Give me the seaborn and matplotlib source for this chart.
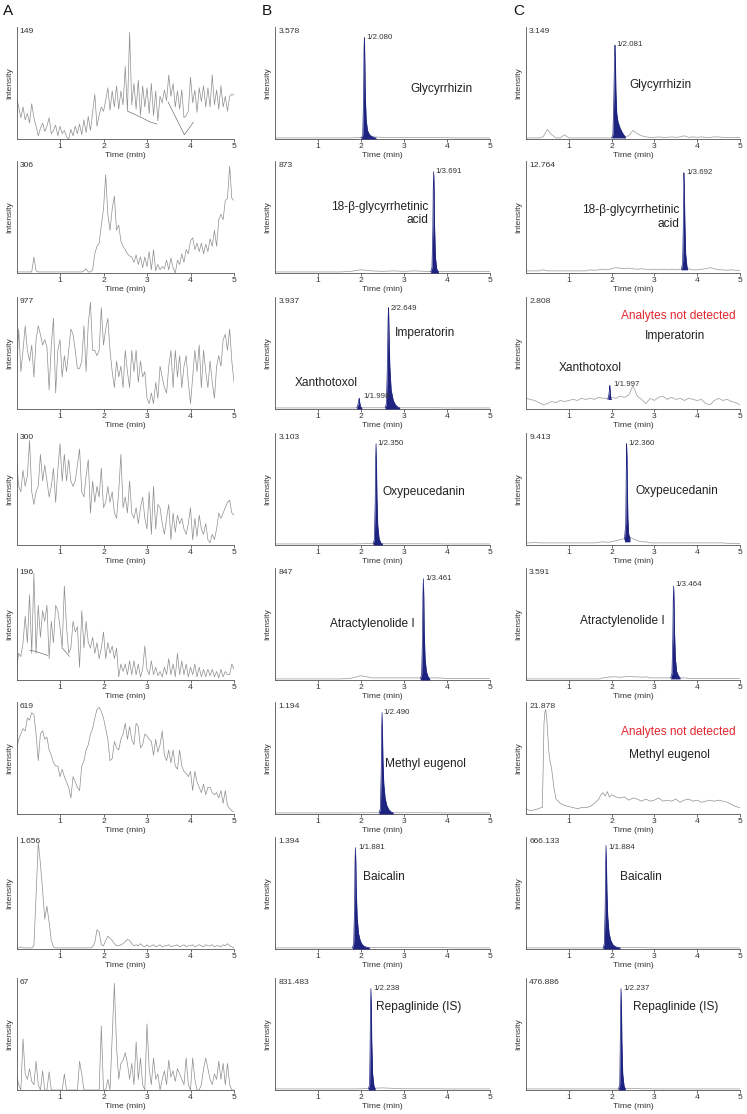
import numpy as np
import matplotlib
matplotlib.use("Agg")
import matplotlib.pyplot as plt
import seaborn as sns

# ---------------- DATA (relative intensity, % of panel maximum) ----------------
XTICKS = [1, 2, 3, 4, 5]

# Column A: blank chromatograms (0.05 min sampling)
a1 = [40,30,20,30,18,24,15,33,20,12, 3,10,15,7,12,20,5,8,13,3,
      12,5,8,2,0,9,3,12,5,14, 4,18,6,21,8,25,42,12,22,30,
      26,36,48,27,45,30,50,28,45,32, 68,26,100,32,52,28,55,22,50,30,
      48,24,52,22,45,17,40,34,46,36, 60,40,52,30,45,28,46,20,22,26,
      58,34,46,25,48,35,50,30,48,30, 60,32,46,28,50,30,40,26,40,42, 41]
a2 = [1,1,1,1,1,1,1,1,15,2, 1,1,1,1,1,1,1,1,1,1,
      1,1,1,1,1,1,1,1,1,1, 1,2,4,1,1,3,18,25,28,45,
      60,92,55,40,60,72,40,45,30,25, 22,18,16,15,10,17,8,15,5,15,
      6,20,3,22,2,8,3,6,4,12, 3,14,5,0,12,8,18,10,22,18,
      30,33,22,28,20,28,18,27,20,32, 25,40,25,50,55,50,68,70,100,70, 68]
a3 = [30,75,35,55,78,55,45,60,30,65, 78,70,60,65,58,18,60,85,15,55,
      65,30,50,35,55,75,70,55,38,38, 45,78,35,80,100,55,55,50,55,95,
      60,75,85,55,35,20,45,30,40,20, 55,35,20,55,35,55,25,45,30,35,
      10,5,15,5,25,10,40,30,20,15, 40,55,20,55,30,50,20,40,50,25,
      5,30,55,35,60,20,55,35,20,45, 25,10,40,50,40,65,70,55,75,45, 25]
a4 = [80,55,50,70,55,65,98,50,38,50, 55,85,60,75,60,45,55,72,40,70,
      95,60,85,60,80,60,55,60,75,90, 50,45,65,80,30,60,40,55,45,72,
      35,40,55,40,50,30,25,50,85,35, 45,30,60,30,25,35,20,35,45,25,
      15,50,10,55,15,38,35,20,10,25, 38,5,30,12,28,20,25,15,10,20,
      35,5,25,8,28,15,10,20,5,2, 10,5,15,30,25,30,35,40,42,30, 28]
a5 = [10,25,22,35,60,35,80,25,100,25, 70,40,65,55,70,20,55,35,70,65,
      50,30,88,50,25,30,55,45,50,12, 65,30,55,35,30,40,25,35,20,30,
      45,20,35,25,32,20,30,3,15,8, 15,5,18,5,18,5,15,3,10,32,
      10,5,18,5,12,4,8,3,12,5, 20,5,15,3,25,5,18,5,15,3,
      12,5,15,3,12,3,10,3,10,4, 10,3,8,2,10,3,8,5,5,15, 10]
a6 = [60,70,75,80,78,90,88,95,93,75, 50,75,78,70,72,60,55,48,45,45,
      35,42,35,30,25,15,35,30,25,22, 45,50,60,65,75,80,90,98,100,96,
      90,80,70,50,52,68,62,60,70,75, 85,70,82,70,65,85,82,62,65,75,
      73,70,68,55,70,58,65,78,55,50, 60,48,60,45,42,60,45,40,38,35,
      40,22,40,30,25,20,28,18,25,25, 20,18,20,15,22,10,22,8,5,3, 2]
a7 = [1,1,2,1,1,1,1,1,3,50, 100,80,55,28,40,25,8,2,1,1,
      1,1,1,1,1,1,1,1,1,1, 1,1,1,1,1,2,6,18,16,4,
      3,8,12,10,8,5,3,3,4,5, 7,9,8,5,3,4,3,5,3,2,
      4,2,3,4,2,3,4,2,3,3, 4,2,3,3,4,2,3,4,2,3,
      3,4,2,3,4,3,2,4,3,3, 4,2,3,3,2,4,3,5,3,2, 1]
a8 = [15,5,0,48,15,10,20,8,5,27, 5,0,18,0,0,17,0,0,0,0,
      0,0,15,0,0,0,0,0,0,27, 15,0,0,0,0,0,0,0,0,60,
      0,0,10,0,50,100,40,10,25,28, 35,25,10,25,5,45,10,30,5,0,
      62,20,5,30,10,15,0,10,18,5, 28,12,18,8,20,15,10,5,30,5,
      0,30,10,0,0,5,20,30,20,10, 5,15,10,27,10,25,5,25,5,0, 0]
a_max = ["149", "306", "977", "300", "196", "619", "1.656", "67"]

# integration baselines drawn over the A traces
a1_bl1_t, a1_bl1_y = [2.56, 2.88, 3.07, 3.23], [26, 20, 16, 14]
a1_bl2_t, a1_bl2_y = [3.48, 3.86, 4.07], [35, 4, 16]
a5_bl1_t, a5_bl1_y = [0.30, 0.42, 0.72], [28, 27, 23]
a5_bl2_t, a5_bl2_y = [1.05, 1.22], [30, 22]

# Column B: standards (baseline sampled every 0.25 min, peaks sampled finely)
b1_base = [1,1,1,1,1,1,1,1,1.5,2,1.5,1.5,1.5,1.5,1.5,1.5,1.2,1,1,1,1]
b2_base = [1,1,1,1,1,1,1,1.5,3,2,1.5,2,1.5,2,1.5,1.5,1.5,1.5,1.5,1.5,1.5]
b3_base = [1,1,1,1,1,1,1,1,1.2,1.2,1.2,1.2,1.2,1.2,1.2,1.2,1,1,1,1,1]
b4_base = [1,1,1,1,1,1,1,1,1.2,1.5,1.2,1.2,1.2,1.2,1.2,1.2,1,1,1,1,1]
b5_base = [1,1,1,1,1,1,1,1.5,4,2,2,2,2,2,2,2,1.5,1.5,1.5,1.5,1.5]
b6_base = [1,1,1,1,1,1,1,1,1.2,1.2,1.2,1.2,1.2,1.2,1.2,1.2,1,1,1,1,1]
b7_base = [1,1,1,1,1,1,1,1,1.2,1.5,1.5,1.5,1.5,1.5,1.5,1.5,1.2,1,1,1,1]
b8_base = [1,1,1,1,1,1,1,1,1.2,1.5,2,1.5,1.2,1.2,1.2,1.2,1,1,1,1,1]
b_max = ["3.578", "873", "3.937", "3.103", "847", "1.194", "1.394", "831.483"]

b1_pt = [2.00,2.04,2.06,2.07,2.08,2.09,2.10,2.12,2.15,2.20,2.25,2.30,2.35]
b1_py = [1,3,40,85,95,70,40,18,8,4,2.5,1.5,1]
b2_pt = [3.62,3.65,3.67,3.68,3.69,3.70,3.71,3.73,3.76,3.80]
b2_py = [1,5,40,80,95,80,45,15,4,1]
b3x_pt = [1.90,1.93,1.95,1.96,1.97,1.99,2.02]
b3x_py = [1,4,9,10,6,2,1]
b3_pt = [2.56,2.59,2.61,2.63,2.64,2.65,2.67,2.70,2.75,2.80,2.85,2.90]
b3_py = [1,5,35,85,95,75,40,18,8,4,2,1]
b4_pt = [2.28,2.31,2.33,2.34,2.35,2.36,2.37,2.39,2.42,2.46,2.50]
b4_py = [1,5,40,80,95,75,45,18,6,2,1]
b5_pt = [3.38,3.41,3.43,3.44,3.45,3.46,3.47,3.49,3.52,3.56,3.60]
b5_py = [1,5,40,80,95,78,45,20,8,3,1]
b6_pt = [2.42,2.45,2.47,2.48,2.49,2.50,2.51,2.53,2.56,2.60,2.65,2.70,2.75]
b6_py = [1,5,40,80,95,75,50,28,15,8,4,2,1]
b7_pt = [1.80,1.83,1.85,1.86,1.87,1.88,1.89,1.91,1.94,1.98,2.03,2.10,2.20]
b7_py = [1,5,40,80,95,80,55,30,15,8,4,2,1]
b8_pt = [2.17,2.20,2.21,2.22,2.23,2.24,2.25,2.27,2.30,2.33]
b8_py = [1,5,35,75,95,80,45,15,4,1]

# Column C: samples (baseline sampled every 0.1 min)
c1_base = [1,1,1,1,2,9,4,1,1,4, 1,1,1,1,1,1,1,1,1,1,
           1,2,3,2,3,8,5,3,2,1.5, 1.5,2,1.5,1.5,2,1.5,2,3,1.5,2,
           1.5,2,1.5,1.5,2,2,1.5,1.5,1.5,1.5, 1.5]
c2_base = [2,2,2,2,3,2,2,2,2,2, 2,2,2,2,2,3,2.5,3,3.5,3,
           4,5,4.5,4,4.5,4,3.5,4,3.5,3, 3.5,3,3.5,3,3.5,3,3.5,3,4,3,
           3,3.5,4,5,4,3,3,2.5,3,2.5, 2.5]
c3_base = [10,9,8,6,4,5,7,6,8,7, 8,9,8,10,9,10,9,11,10,10,
           11,10,12,11,13,22,12,9,5,10, 8,11,12,9,11,9,10,8,10,9,
           8,9,5,4,8,10,8,9,7,6, 4]
c4_base = [2,2,2.5,2,2,2,2,2,2,2, 2,2,2,2,2,2,2,2.5,3,2.5,
           3,4,5,6,8,6,4,3,3,2, 2,2,2,2,2,2,2,2,2,2,
           2,2,2,2,2,2,2,1.5,1.5,1.5, 1.5]
c5_base = [1,1,1,1,1,1,1,1,1,1, 1,1,1,1,1,1,1,1,2,2.5,
           3,3,2.5,3,3.5,3,3,2.5,3,2, 2,2,2,2,2,2,2,2,1.5,1.5,
           1.5,1.5,1.5,1.5,1.5,1.5,1.5,1.5,1.5,1.5, 1.5]
c6_t = [0.0,0.1,0.2,0.3,0.35,0.38,0.40,0.42,0.44,0.46,0.48,0.50,0.53,0.56,0.60,0.65,0.70,
        0.80,0.90,1.00,1.10,1.20,1.30,1.40,1.50,1.60,1.70,1.75,1.80,1.85,1.90,1.95,2.00,
        2.10,2.20,2.30,2.40,2.50,2.60,2.70,2.80,2.90,3.00,3.10,3.20,3.30,3.40,3.50,3.60,
        3.70,3.80,3.90,4.00,4.10,4.20,4.30,4.40,4.50,4.60,4.70,4.80,4.90,5.00]
c6_y = [5,3,4,5,6,6,40,85,95,98,92,80,60,50,42,25,14,
        10,8,7,6,5,6,6,7,10,14,18,20,17,21,16,18,
        16,15,16,13,15,14,12,14,12,13,15,12,13,12,14,11,
        13,14,12,13,11,12,13,12,13,12,11,9,7,6]
c7_base = [1,1,1,1,1,1,1,1,1,1, 1,1,1,1,1,1,1,1,1,1,
           1,1.5,1.5,1.5,1.5,1.5,1.5,1.5,1.2,1.2, 1,1,1,1,1,1,1,1,1,1,
           1,1,1,1,1,1,1,1,1,1, 1]
c8_base = [1,1,1,1,1,1,1,1,1,1, 1,1,1,1,1,1,1,1,1,1,
           1,1,1,1.5,1.5,1.5,1.5,1.2,1.2,1.2, 1,1,1,1,1,1,1,1,1,1,
           1,1,1,1,1,1,1,1,1,1, 1]
c_max = ["3.149", "12.764", "2.808", "9.413", "3.591", "21.878", "666.133", "476.886"]

c1_pt = [2.00,2.03,2.05,2.07,2.08,2.09,2.10,2.12,2.15,2.20,2.25,2.30,2.33]
c1_py = [1,4,35,80,88,72,45,24,16,10,6,3,1]
c2_pt = [3.63,3.66,3.68,3.69,3.70,3.71,3.73,3.76,3.78]
c2_py = [3,10,55,94,80,50,18,6,3]
c3_pt = [1.91,1.93,1.95,1.96,1.97,1.98,2.00]
c3_py = [9,12,18,22,15,10,9]
c4_pt = [2.30,2.33,2.34,2.35,2.36,2.37,2.38,2.40,2.43]
c4_py = [5,20,60,95,80,50,25,10,6]
c5_pt = [3.38,3.41,3.43,3.44,3.45,3.46,3.47,3.49,3.52,3.56,3.60]
c5_py = [2,6,40,75,88,72,45,20,8,4,2]
c7_pt = [1.80,1.83,1.85,1.86,1.87,1.88,1.89,1.91,1.94,1.98,2.03,2.10,2.20]
c7_py = [1,5,40,80,97,80,55,30,15,8,4,2,1]
c8_pt = [2.16,2.19,2.20,2.21,2.22,2.23,2.24,2.26,2.29,2.32]
c8_py = [1,5,35,75,95,80,45,15,4,1]

# ---------------- STYLE / LAYOUT ----------------
sns.set_theme(style="ticks")
plt.rcParams["font.family"] = ["Liberation Sans", "DejaVu Sans"]

W, H = 747, 1114
fig = plt.figure(figsize=(W / 100, H / 100), dpi=100)

COL_L = [16.5, 275, 526]
COL_R = [234, 490, 740]
ROW_B = [139, 273, 409, 545, 680, 814, 949, 1090]
AX_H = 112

GRAY = "#8e8e8e"
LGRAY = "#a8a8a8"
NAVY = "#1e2380"
RED = "#e3262e"
FS_SMALL = 6.1
FS_NAME = 8.6


def make_ax(col, row):
    l, r = COL_L[col], COL_R[col]
    b = ROW_B[row]
    return fig.add_axes([l / W, 1 - b / H, (r - l) / W, AX_H / H])


def style(ax, top_label):
    ax.set_xlim(0, 5)
    ax.set_ylim(0, 105)
    ax.set_xticks(XTICKS)
    ax.set_xticklabels([str(v) for v in XTICKS])
    ax.set_yticks([])
    ax.tick_params(axis="x", direction="out", length=2, width=0.5, pad=1.2,
                   labelsize=FS_SMALL, colors="#333333")
    for s in ["top", "right"]:
        ax.spines[s].set_visible(False)
    for s in ["left", "bottom"]:
        ax.spines[s].set_linewidth(0.6)
        ax.spines[s].set_color("#555555")
    ax.set_xlabel("Time (min)", fontsize=FS_SMALL, labelpad=1.0, color="#333333")
    ax.set_ylabel("Intensity", fontsize=FS_SMALL, labelpad=2.5, color="#333333")
    ax.text(0.015, 0.995, top_label, transform=ax.transAxes, fontsize=FS_SMALL,
            va="top", ha="left", color="#333333")


def line(ax, t, y, color, lw):
    sns.lineplot(x=np.asarray(t, float), y=np.asarray(y, float), ax=ax, color=color,
                 linewidth=lw, errorbar=None, legend=False, sort=False)


def peak(ax, t, y, floor):
    t = np.asarray(t, float)
    y = np.asarray(y, float)
    ax.fill_between(t, floor, y, color=NAVY, linewidth=0, zorder=3)
    line(ax, t, y, NAVY, 0.5)


def rt_label(ax, text, x, yfrac):
    ax.text(x, yfrac, text, transform=ax.get_xaxis_transform(), fontsize=FS_SMALL - 0.4,
            va="center", ha="left", color="#333333", zorder=5)


def name_label(ax, text, x, yfrac, ha="center", color="#222222"):
    ax.text(x, yfrac, text, transform=ax.get_xaxis_transform(), fontsize=FS_NAME,
            va="center", ha=ha, color=color, linespacing=1.15, zorder=5)


# ---------- Column A ----------
a_traces = [a1, a2, a3, a4, a5, a6, a7, a8]
for i, vals in enumerate(a_traces):
    ax = make_ax(0, i)
    t = np.linspace(0, 5, len(vals))
    line(ax, t, vals, GRAY, 0.5)
    style(ax, a_max[i])
    if i == 0:
        line(ax, a1_bl1_t, a1_bl1_y, "#555555", 0.4)
        line(ax, a1_bl2_t, a1_bl2_y, "#555555", 0.4)
    if i == 4:
        line(ax, a5_bl1_t, a5_bl1_y, "#555555", 0.4)
        line(ax, a5_bl2_t, a5_bl2_y, "#555555", 0.4)

# ---------- Column B ----------
b_bases = [b1_base, b2_base, b3_base, b4_base, b5_base, b6_base, b7_base, b8_base]
b_peaks = [[(b1_pt, b1_py)], [(b2_pt, b2_py)], [(b3x_pt, b3x_py), (b3_pt, b3_py)],
           [(b4_pt, b4_py)], [(b5_pt, b5_py)], [(b6_pt, b6_py)], [(b7_pt, b7_py)],
           [(b8_pt, b8_py)]]
b_axes = []
for i in range(8):
    ax = make_ax(1, i)
    base = b_bases[i]
    line(ax, np.linspace(0, 5, len(base)), base, LGRAY, 0.6)
    for pt, py in b_peaks[i]:
        peak(ax, pt, py, 0)
    style(ax, b_max[i])
    b_axes.append(ax)

rt_label(b_axes[0], "1/2.080", 2.12, 0.91)
name_label(b_axes[0], "Glycyrrhizin", 3.87, 0.45)
rt_label(b_axes[1], "1/3.691", 3.73, 0.91)
name_label(b_axes[1], "18-\u03b2-glycyrrhetinic\nacid", 3.57, 0.53, ha="right")
rt_label(b_axes[2], "2/2.649", 2.69, 0.90)
rt_label(b_axes[2], "1/1.998", 2.05, 0.11)
name_label(b_axes[2], "Imperatorin", 3.48, 0.68)
name_label(b_axes[2], "Xanthotoxol", 1.2, 0.23)
rt_label(b_axes[3], "1/2.350", 2.39, 0.91)
name_label(b_axes[3], "Oxypeucedanin", 2.5, 0.47, ha="left")
rt_label(b_axes[4], "1/3.461", 3.50, 0.91)
name_label(b_axes[4], "Atractylenolide I", 3.25, 0.50, ha="right")
rt_label(b_axes[5], "1/2.490", 2.53, 0.91)
name_label(b_axes[5], "Methyl eugenol", 2.56, 0.45, ha="left")
rt_label(b_axes[6], "1/1.881", 1.93, 0.91)
name_label(b_axes[6], "Baicalin", 2.04, 0.64, ha="left")
rt_label(b_axes[7], "1/2.238", 2.28, 0.91)
name_label(b_axes[7], "Repaglinide (IS)", 2.34, 0.74, ha="left")

# ---------- Column C ----------
c_bases = [c1_base, c2_base, c3_base, c4_base, c5_base, None, c7_base, c8_base]
c_peaks = [[(c1_pt, c1_py, 1)], [(c2_pt, c2_py, 3)], [(c3_pt, c3_py, 9)],
           [(c4_pt, c4_py, 3)], [(c5_pt, c5_py, 1)], [], [(c7_pt, c7_py, 0)],
           [(c8_pt, c8_py, 0)]]
c_axes = []
for i in range(8):
    ax = make_ax(2, i)
    if c_bases[i] is None:
        line(ax, c6_t, c6_y, GRAY, 0.5)
    else:
        base = c_bases[i]
        line(ax, np.linspace(0, 5, len(base)), base, LGRAY, 0.6)
    for pt, py, fl in c_peaks[i]:
        peak(ax, pt, py, fl)
    style(ax, c_max[i])
    c_axes.append(ax)

rt_label(c_axes[0], "1/2.081", 2.12, 0.84)
name_label(c_axes[0], "Glycyrrhizin", 3.15, 0.48)
rt_label(c_axes[1], "1/3.692", 3.74, 0.90)
name_label(c_axes[1], "18-\u03b2-glycyrrhetinic\nacid", 3.58, 0.50, ha="right")
name_label(c_axes[2], "Analytes not detected", 3.55, 0.83, color=RED)
name_label(c_axes[2], "Imperatorin", 3.48, 0.65)
name_label(c_axes[2], "Xanthotoxol", 1.5, 0.37)
rt_label(c_axes[2], "1/1.997", 2.03, 0.22)
rt_label(c_axes[3], "1/2.360", 2.40, 0.91)
name_label(c_axes[3], "Oxypeucedanin", 2.55, 0.48, ha="left")
rt_label(c_axes[4], "1/3.464", 3.50, 0.85)
name_label(c_axes[4], "Atractylenolide I", 3.25, 0.53, ha="right")
name_label(c_axes[5], "Analytes not detected", 3.55, 0.73, color=RED)
name_label(c_axes[5], "Methyl eugenol", 3.35, 0.53)
rt_label(c_axes[6], "1/1.884", 1.93, 0.91)
name_label(c_axes[6], "Baicalin", 2.2, 0.64, ha="left")
rt_label(c_axes[7], "1/2.237", 2.27, 0.91)
name_label(c_axes[7], "Repaglinide (IS)", 2.5, 0.74, ha="left")

# panel letters
for letter, x in zip(["A", "B", "C"], [3, 262, 513]):
    fig.text(x / W, 1 - 4 / H, letter, fontsize=11, va="top", ha="left", color="#111111")

fig.savefig("out.png", dpi=100)
